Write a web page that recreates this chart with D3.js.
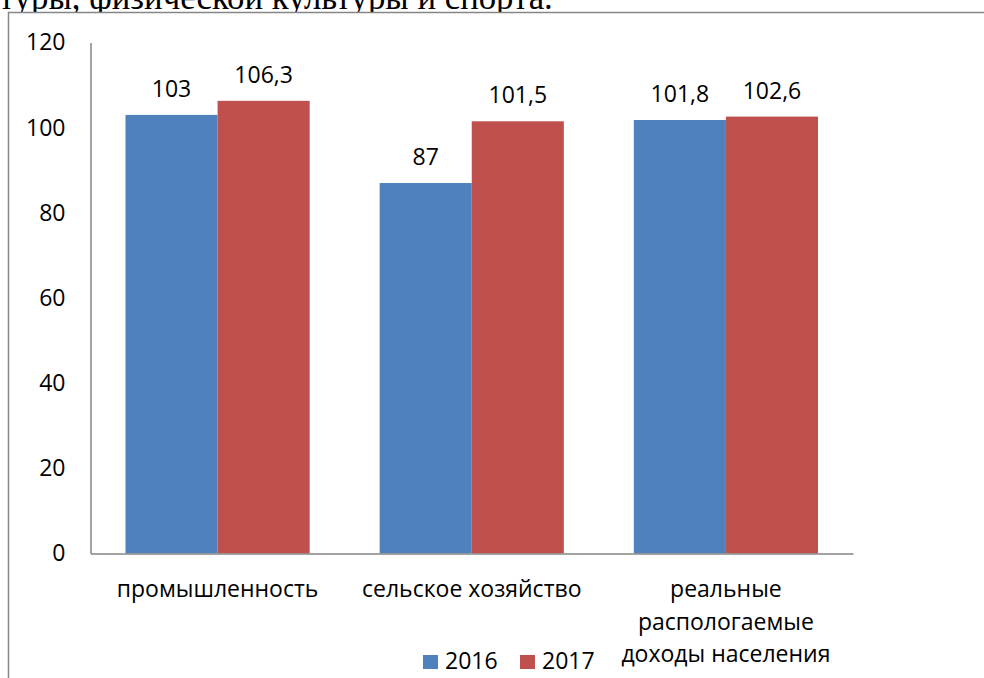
<!DOCTYPE html>
<html>
<head>
<meta charset="utf-8">
<script src="https://cdn.jsdelivr.net/npm/d3@7/dist/d3.min.js"></script>
<style>
  html, body { margin: 0; padding: 0; background: #fff; }
  svg { display: block; }
  text { font-family: "Open Sans", "Liberation Sans", sans-serif; fill: #000; }
</style>
</head>
<body>
<svg id="chart" width="984" height="678"></svg>
<script>
// Growth indices, % to previous year
const categories = ["промышленность", "сельское хозяйство", "реальные\nраспологаемые\nдоходы населения"];
const seriesNames = ["2016", "2017"];
const values2016 = [103, 87, 101.8];
const values2017 = [106.3, 101.5, 102.6];
const yTicks = [0, 20, 40, 60, 80, 100, 120];
const colors = ["#4F81BD", "#C0504D"];
const headingText = "туры, физической культуры и спорта.";

const svg = d3.select("#chart");
const W = 984, H = 678;
const FS = 23;

// Tail of the preceding paragraph; the chart area sits on top of it
const heading = svg.append("text")
  .attr("x", -1).attr("y", 9)
  .style("font-family", "'Liberation Serif', 'DejaVu Serif', serif")
  .style("font-size", "33px")
  .text(headingText);
const hw = heading.node().getComputedTextLength();
heading.style("font-size", (33 * 554 / hw).toFixed(2) + "px");

// Chart area background and frame (left and top edges visible)
svg.append("rect")
  .attr("x", 8.5).attr("y", 12.5).attr("width", W).attr("height", H)
  .attr("fill", "#fff");
svg.append("path")
  .attr("d", `M8.5,${H} V12.5 H${W}`)
  .attr("fill", "none").attr("stroke", "#868686").attr("stroke-width", 1.5);

const plot = { left: 90.5, right: 853, top: 42.5, bottom: 553.5 };

const x = d3.scaleBand().domain(categories).range([plot.left, plot.right]).paddingInner(0).paddingOuter(0);
const inner = d3.scaleBand().domain(seriesNames).range([0, x.bandwidth()]).paddingOuter(0.38).paddingInner(0);
const y = d3.scaleLinear().domain([0, 120]).range([plot.bottom, plot.top]);

const rows = categories.map((c, i) => ({ cat: c, vals: [values2016[i], values2017[i]] }));

const fmt = v => String(v).replace(".", ",");

const groups = svg.append("g").selectAll("g").data(rows).join("g")
  .attr("transform", d => `translate(${x(d.cat)},0)`);

groups.selectAll("rect").data(d => d.vals.map((v, k) => ({ v, k })))
  .join("rect")
  .attr("x", d => inner(seriesNames[d.k]))
  .attr("width", inner.bandwidth())
  .attr("y", d => y(d.v))
  .attr("height", d => y(0) - y(d.v))
  .attr("fill", d => colors[d.k]);

groups.selectAll("text.val").data(d => d.vals.map((v, k) => ({ v, k })))
  .join("text").attr("class", "val")
  .attr("x", d => inner(seriesNames[d.k]) + inner.bandwidth() / 2)
  .attr("y", d => y(d.v) - 18)
  .attr("text-anchor", "middle")
  .style("font-size", FS + "px")
  .text(d => fmt(d.v));

// Y axis
const yAxis = d3.axisLeft(y).tickValues(yTicks).tickSize(0).tickPadding(25);
const gy = svg.append("g").attr("transform", `translate(${plot.left},0)`).call(yAxis);
gy.select(".domain").attr("stroke", "#868686").attr("stroke-width", 1.5);
gy.selectAll("text").style("font-size", FS + "px").style("font-family", "'Open Sans', sans-serif").attr("fill", "#000");

// X axis line
const xAxis = d3.axisBottom(x).tickSize(0).tickFormat("");
const gx = svg.append("g").attr("transform", `translate(0,${plot.bottom})`).call(xAxis);
gx.select(".domain").attr("stroke", "#868686").attr("stroke-width", 1.5);

// Category labels, split over lines
categories.forEach(c => {
  const lines = c.split("\n");
  const t = svg.append("text")
    .attr("text-anchor", "middle")
    .style("font-size", FS + "px");
  lines.forEach((ln, i) => {
    t.append("tspan").attr("x", x(c) + x.bandwidth() / 2).attr("y", 597 + i * 32.5).text(ln);
  });
});

// Legend
const legend = svg.append("g");
const legendX = [423, 520];
seriesNames.forEach((s, i) => {
  legend.append("rect").attr("x", legendX[i]).attr("y", 655).attr("width", 15).attr("height", 14).attr("fill", colors[i]);
  legend.append("text").attr("x", legendX[i] + 22).attr("y", 669).style("font-size", FS + "px").text(s);
});
</script>
</body>
</html>
